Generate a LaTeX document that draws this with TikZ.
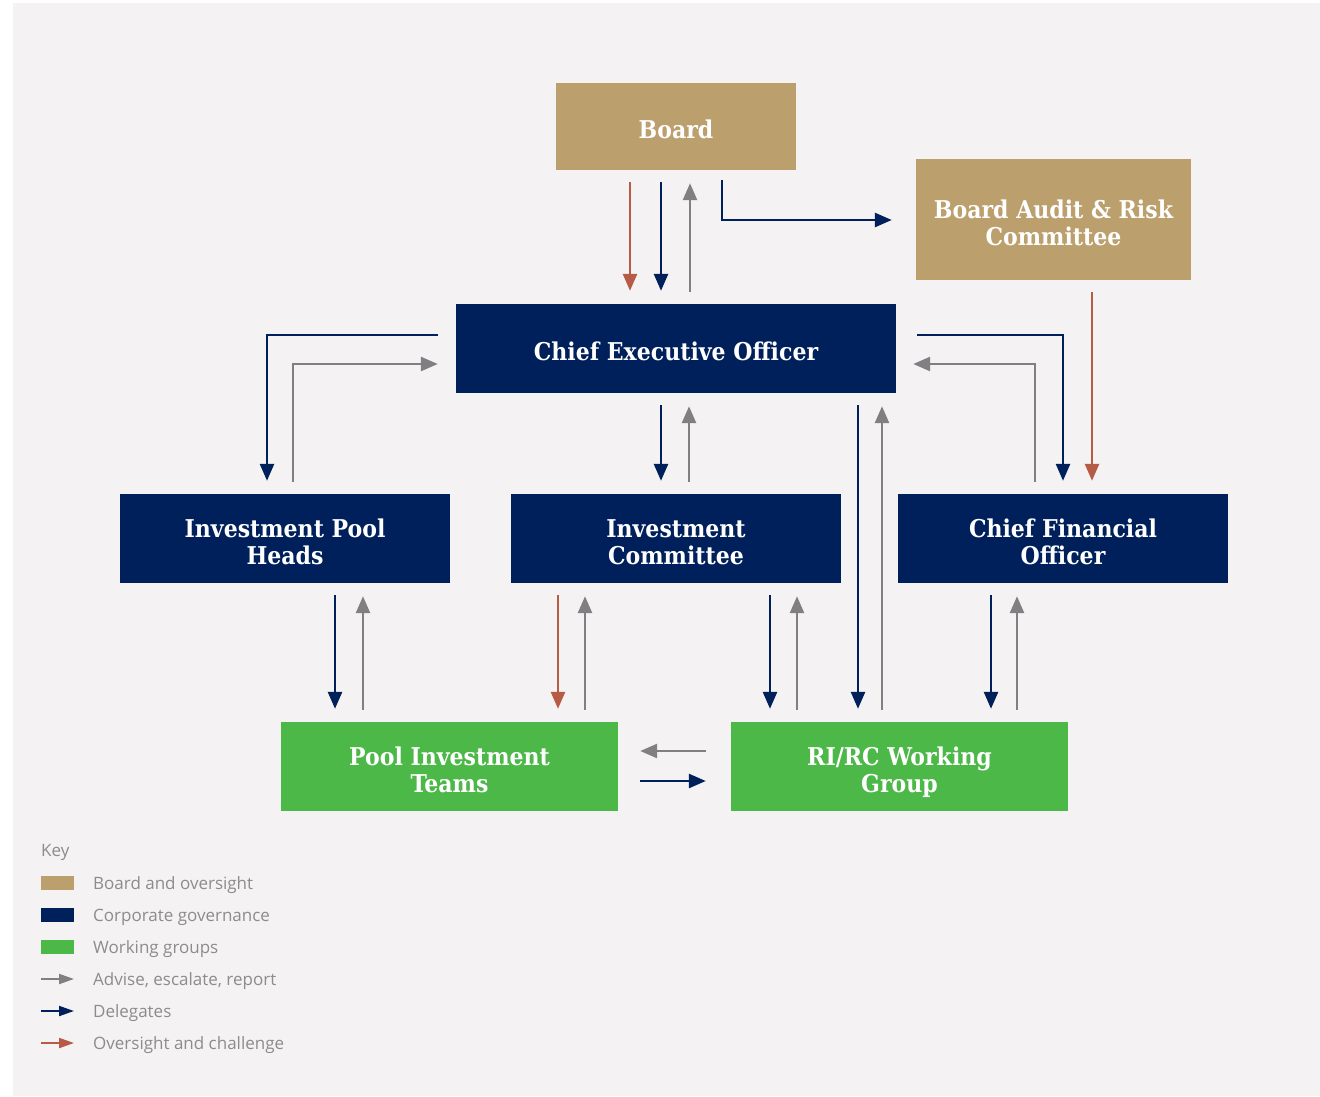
\documentclass[tikz,border=0pt]{standalone}
\usepackage{fontspec}
\usetikzlibrary{arrows.meta}
\newfontfamily\boxfont{DejaVu Serif}[FakeStretch=0.9]
\newfontfamily\keyfont{Open Sans}
\definecolor{bgpaper}{HTML}{F4F2F3}
\definecolor{boardtan}{HTML}{BB9F6D}
\definecolor{govnavy}{HTML}{00205B}
\definecolor{workgreen}{HTML}{4CB848}
\definecolor{advgray}{HTML}{808083}
\definecolor{ovred}{HTML}{B55B46}
\definecolor{keygray}{HTML}{8C8C8C}
\newcommand{\boxlabel}[1]{\rule{0pt}{30pt}#1\rule[-6pt]{0pt}{6pt}}
\tikzset{
  box/.style={inner sep=0pt,text=white,align=center,
    font=\boxfont\bfseries\fontsize{24.5}{27}\selectfont},
  tanbox/.style={box,fill=boardtan},
  navybox/.style={box,fill=govnavy,minimum width=330pt,minimum height=89pt},
  greenbox/.style={box,fill=workgreen,minimum width=337pt,minimum height=89pt},
  link/.style={line width=2.6pt,-{Triangle[length=17pt,width=14pt]},
    shorten <=12pt,shorten >=13pt},
  adv/.style={link,draw=advgray},
  deleg/.style={link,draw=govnavy},
  overs/.style={link,draw=ovred},
  keytext/.style={anchor=west,inner sep=0pt,text=keygray,
    font=\keyfont\fontsize{17}{20}\selectfont},
  keytip/.style={line width=2pt,-{Triangle[length=15pt,width=10pt]}}
}

\begin{document}
\begin{tikzpicture}[x=1pt,y=-1pt]
  \useasboundingbox (0,0) rectangle (1320,1096);
  \fill[bgpaper] (13,3) rectangle (1320,1096);

  \node[tanbox,minimum width=240pt,minimum height=87pt] (board) at (676,126.5) {\boxlabel{Board}};
  \node[tanbox,minimum width=275pt,minimum height=121pt] (barc) at (1053.5,219.5) {\boxlabel{Board Audit \& Risk\\Committee}};
  \node[navybox,minimum width=440pt] (ceo) at (676,348.5) {\boxlabel{Chief Executive Officer}};
  \node[navybox] (iph) at (285,538.5) {\boxlabel{Investment Pool\\Heads}};
  \node[navybox] (ic) at (676,538.5) {\boxlabel{Investment\\Committee}};
  \node[navybox] (cfo) at (1063,538.5) {\boxlabel{Chief Financial\\Officer}};
  \node[greenbox] (pit) at (449.5,766.5) {\boxlabel{Pool Investment\\Teams}};
  \node[greenbox] (riwg) at (899.5,766.5) {\boxlabel{RI/RC Working\\Group}};

  \foreach \s/\x/\a/\b in {overs/630/board/ceo, deleg/661/board/ceo, deleg/661/ceo/ic,
      deleg/858/ceo/riwg, deleg/335/iph/pit, overs/558/ic/pit, deleg/770/ic/riwg,
      deleg/991/cfo/riwg, overs/1092/barc/cfo}
    \draw[\s] (\x,0 |- \a.south) -- (\x,0 |- \b.north);
  \foreach \x/\a/\b in {690/board/ceo, 689/ceo/ic, 882/ceo/riwg, 363/iph/pit,
      585/ic/pit, 797/ic/riwg, 1017/cfo/riwg}
    \draw[adv] (\x,0 |- \b.north) -- (\x,0 |- \a.south);

  \draw[deleg,shorten <=10pt,shorten >=24pt] (722,0 |- board.south) |- (barc.west |- 0,220);
  \draw[deleg,shorten <=18pt] (ceo.west |- 0,335) -| (267,0 |- iph.north);
  \draw[adv,shorten >=18pt] (293,0 |- iph.north) |- (ceo.west |- 0,364);
  \draw[deleg,shorten <=21pt] (ceo.east |- 0,335) -| (1063,0 |- cfo.north);
  \draw[adv,shorten >=17pt] (1035,0 |- cfo.north) |- (ceo.east |- 0,364);
  \draw[adv,shorten <=25pt,shorten >=22pt] (riwg.west |- 0,751) -- (pit.east |- 0,751);
  \draw[deleg,shorten <=22pt,shorten >=25pt] (pit.east |- 0,781) -- (riwg.west |- 0,781);

  \node[keytext] (key) at (41,852) {Key};
  \foreach[count=\i] \c/\t in {boardtan/Board and oversight, govnavy/Corporate governance,
      workgreen/Working groups} {
    \node[keytext] (key\i) at (93,853+\i*32) {\t};
    \fill[\c] (41,876+\i*32-32) rectangle (74,890+\i*32-32);
  }
  \foreach[count=\i from 4] \c/\t in {advgray/{Advise, escalate, report}, govnavy/Delegates,
      ovred/Oversight and challenge} {
    \node[keytext] (key\i) at (93,853+\i*32) {\t};
    \draw[keytip,draw=\c] (41,851+\i*32) -- (74,851+\i*32);
  }
\end{tikzpicture}
\end{document}
